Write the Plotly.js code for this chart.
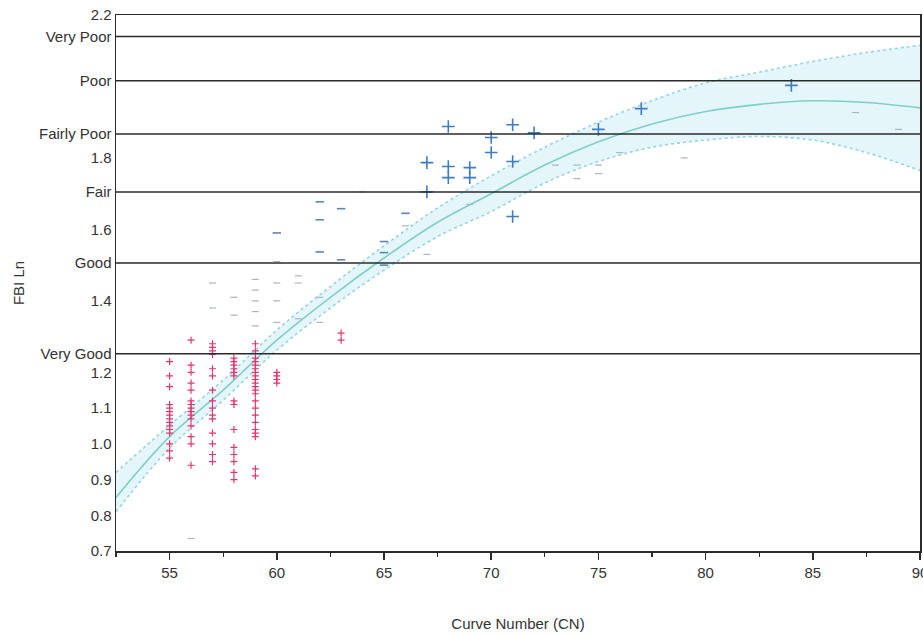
<!DOCTYPE html>
<html>
<head>
<meta charset="utf-8">
<script src="https://cdn.plot.ly/plotly-3.0.1.min.js"></script>
<style>html,body{margin:0;padding:0;background:#fff;}#chart{width:923px;height:635px;}</style>
</head>
<body>
<div id="chart"></div>
<script>
// Fitted curve and confidence band
const fitX     = [52.5, 55, 57.5, 60, 62.5, 65, 67.5, 70, 72.5, 75, 77.5, 80, 82.5, 85, 87.5, 90];
const fitY     = [0.85, 1.02, 1.15, 1.29, 1.41, 1.52, 1.62, 1.70, 1.78, 1.845, 1.895, 1.93, 1.95, 1.96, 1.955, 1.94];
const bandUp   = [0.92, 1.052, 1.178, 1.318, 1.44, 1.554, 1.66, 1.75, 1.83, 1.90, 1.96, 2.01, 2.04, 2.07, 2.095, 2.115];
const bandLow  = [0.81, 0.988, 1.122, 1.262, 1.38, 1.486, 1.58, 1.65, 1.73, 1.79, 1.83, 1.85, 1.86, 1.85, 1.815, 1.765];

// Red observations, by curve-number column
const redCols = [55, 56, 57, 58, 59, 60, 63];
const redVals = [
  [1.23, 1.19, 1.16, 1.11, 1.10, 1.09, 1.08, 1.07, 1.06, 1.05, 1.04, 1.03, 1.00, 0.98, 0.96],
  [1.29, 1.22, 1.20, 1.17, 1.15, 1.12, 1.11, 1.10, 1.09, 1.08, 1.07, 1.05, 1.02, 1.00, 0.94],
  [1.28, 1.27, 1.26, 1.25, 1.21, 1.19, 1.15, 1.12, 1.10, 1.08, 1.07, 1.03, 1.00, 0.97, 0.95],
  [1.24, 1.23, 1.22, 1.21, 1.20, 1.19, 1.12, 1.11, 1.04, 0.99, 0.97, 0.95, 0.92, 0.90],
  [1.28, 1.26, 1.24, 1.23, 1.22, 1.21, 1.20, 1.19, 1.18, 1.17, 1.16, 1.15, 1.14, 1.12, 1.10, 1.08, 1.06, 1.04, 1.03, 1.02, 0.93, 0.91],
  [1.20, 1.19, 1.18, 1.17],
  [1.31, 1.29]
];

// Faint grey observations
const greyX = [56, 57, 57, 58, 58, 59, 59, 59, 59, 59, 60, 60, 60, 60, 61, 61, 61, 62, 62, 64, 66, 67, 69, 73, 74, 74, 75, 75, 76, 79, 87, 89];
const greyY = [0.735, 1.45, 1.38, 1.41, 1.36, 1.46, 1.43, 1.40, 1.37, 1.33, 1.51, 1.45, 1.40, 1.34, 1.47, 1.45, 1.35, 1.41, 1.34, 1.705, 1.61, 1.53, 1.67, 1.78, 1.78, 1.742, 1.78, 1.756, 1.815, 1.80, 1.927, 1.88];

// Blue dash observations
const dashX = [60, 62, 62, 62, 63, 63, 65, 65, 65, 66];
const dashY = [1.59, 1.677, 1.627, 1.537, 1.658, 1.515, 1.566, 1.535, 1.50, 1.645];

// Blue cross observations
const plusX = [67, 67, 68, 68, 68, 69, 69, 70, 70, 71, 71, 71, 72, 75, 77, 84];
const plusY = [1.787, 1.705, 1.888, 1.776, 1.745, 1.773, 1.745, 1.857, 1.815, 1.893, 1.79, 1.636, 1.87, 1.88, 1.938, 2.003];

// Rating classes
const classNames = ["Very Good", "Good", "Fair", "Fairly Poor", "Poor", "Very Poor"];
const classVals  = [1.252, 1.506, 1.705, 1.867, 2.016, 2.14];

// Numeric y ticks
const numTicks = [0.7, 0.8, 0.9, 1.0, 1.1, 1.2, 1.4, 1.6, 1.8, 2.2];
const numLabels = ["0.7", "0.8", "0.9", "1.0", "1.1", "1.2", "1.4", "1.6", "1.8", "2.2"];

const redX = [], redY = [];
redCols.forEach((c, i) => redVals[i].forEach(v => { redX.push(c); redY.push(v); }));

const tickvals = numTicks.concat(classVals);
const ticktext = numLabels.concat(classNames);

const traces = [
  {x: fitX, y: bandLow, mode: 'lines', line: {color: '#96d3e3', width: 1.6, dash: 'dot', shape: 'spline'}, hoverinfo: 'skip', showlegend: false},
  {x: fitX, y: bandUp, mode: 'lines', fill: 'tonexty', fillcolor: 'rgba(212,240,248,0.6)', line: {color: '#96d3e3', width: 1.6, dash: 'dot', shape: 'spline'}, hoverinfo: 'skip', showlegend: false},
  {x: fitX, y: fitY, mode: 'lines', line: {color: '#80cfc6', width: 1.6, shape: 'spline'}, showlegend: false},
  {x: greyX, y: greyY, mode: 'markers', marker: {symbol: 'line-ew-open', size: 5, color: '#aab4ba', line: {color: '#aab4ba', width: 1.2}}, showlegend: false},
  {x: redX, y: redY, mode: 'markers', marker: {symbol: 'cross-thin-open', size: 5, color: '#e2356f', line: {color: '#e2356f', width: 1.2}}, showlegend: false},
  {x: dashX, y: dashY, mode: 'markers', marker: {symbol: 'line-ew-open', size: 6, color: '#5a86b8', line: {color: '#5a86b8', width: 1.6}}, showlegend: false},
  {x: plusX, y: plusY, mode: 'markers', marker: {symbol: 'cross-thin-open', size: 9, color: '#3f7cc2', line: {color: '#3f7cc2', width: 1.6}}, showlegend: false}
];

const shapes = classVals.map(v => ({
  type: 'line', xref: 'paper', x0: 0, x1: 1, yref: 'y', y0: v, y1: v,
  line: {color: '#2a2a2a', width: 1.5}, layer: 'above'
}));

const fontFam = '"Liberation Sans", Arial, sans-serif';

const layout = {
  width: 923, height: 635,
  margin: {l: 116, r: 3, t: 15, b: 84},
  paper_bgcolor: '#fff', plot_bgcolor: '#fff',
  font: {family: fontFam, size: 15, color: '#333'},
  showlegend: false,
  shapes: shapes,
  xaxis: {
    range: [52.5, 90], tickvals: [55, 60, 65, 70, 75, 80, 85, 90],
    ticks: 'outside', ticklen: 7, tickwidth: 1.5, tickcolor: '#2a2a2a',
    ticklabeloverflow: 'allow',
    minor: {dtick: 2.5, tick0: 0, ticks: 'outside', ticklen: 4, tickwidth: 1.2, tickcolor: '#2a2a2a'},
    showgrid: false, zeroline: false,
    showline: true, mirror: true, linecolor: '#2a2a2a', linewidth: 1.5,
    tickfont: {family: fontFam, size: 15, color: '#333'},
    title: {text: 'Curve Number (CN)', font: {family: fontFam, size: 15, color: '#333'}, standoff: 39}
  },
  yaxis: {
    range: [0.7, 2.2], tickvals: tickvals, ticktext: ticktext,
    ticks: '', showgrid: false, zeroline: false,
    showline: true, mirror: true, linecolor: '#2a2a2a', linewidth: 1.5,
    tickfont: {family: fontFam, size: 15, color: '#333'},
    title: {text: 'FBI Ln', font: {family: fontFam, size: 15, color: '#333'}, standoff: 10}
  }
};

Plotly.newPlot('chart', traces, layout, {displayModeBar: false, staticPlot: true});
</script>
</body>
</html>
